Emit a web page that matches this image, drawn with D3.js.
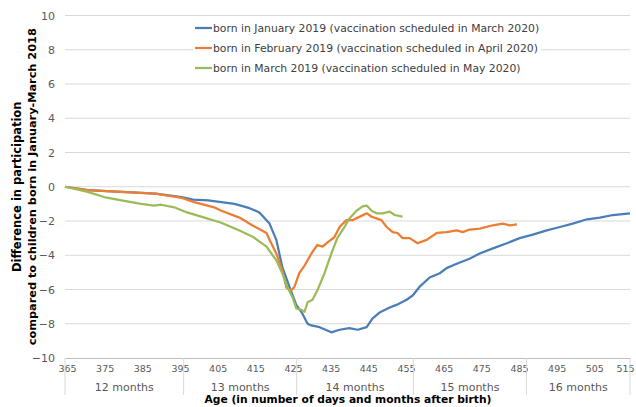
<!DOCTYPE html>
<html>
<head>
<meta charset="utf-8">
<script src="https://cdn.jsdelivr.net/npm/d3@7"></script>
<style>
  body { margin: 0; background: #fff; }
  svg { font-family: "DejaVu Sans", Verdana, sans-serif; }
</style>
</head>
<body>
<svg id="chart" width="636" height="407"></svg>
<script>
// age in days, difference in participation (percentage points)
const bornJan = [[365,0],[371,-0.2],[380,-0.3],[389,-0.4],[396,-0.6],[399,-0.75],[403,-0.8],[406.5,-0.9],[410,-1.0],[414,-1.25],[416.6,-1.5],[419.3,-2.15],[421.1,-3.1],[422.7,-4.7],[424.6,-5.85],[426.4,-6.9],[428,-7.4],[429.4,-8.0],[430.4,-8.1],[432.6,-8.2],[435.7,-8.5],[437.9,-8.35],[440.5,-8.25],[442.7,-8.35],[445.1,-8.2],[446.6,-7.7],[448.5,-7.35],[451.2,-7.05],[453,-6.9],[455.7,-6.6],[457.3,-6.35],[459.1,-5.85],[461.8,-5.3],[464.5,-5.05],[466.3,-4.75],[469,-4.5],[472.4,-4.2],[475.1,-3.9],[478.6,-3.6],[482.3,-3.3],[485.7,-3.0],[489.2,-2.8],[492.9,-2.55],[496.4,-2.35],[499.8,-2.15],[503.6,-1.9],[507,-1.8],[510.5,-1.65],[515,-1.55]];
const bornFeb = [[365,0],[371,-0.2],[380,-0.3],[389,-0.4],[396,-0.65],[399.3,-0.9],[404.6,-1.2],[406.5,-1.4],[411.3,-1.8],[414.7,-2.25],[418.5,-2.7],[419.3,-3.1],[421.1,-3.9],[422.7,-4.9],[423.8,-5.9],[425.1,-6.05],[425.9,-5.85],[427.2,-5.05],[428.6,-4.6],[430.7,-3.8],[432,-3.4],[433.4,-3.5],[434.7,-3.25],[436.5,-2.95],[437.9,-2.35],[439.7,-1.95],[441.3,-1.95],[443.7,-1.7],[445.1,-1.55],[446.4,-1.75],[447.7,-1.85],[449,-1.95],[450.4,-2.35],[452,-2.65],[453.3,-2.7],[454.6,-3.0],[456.5,-3.0],[458.6,-3.3],[461,-3.1],[463.7,-2.7],[466.3,-2.65],[469,-2.55],[470.6,-2.65],[472.4,-2.5],[475.1,-2.45],[478.6,-2.25],[481.2,-2.15],[483.1,-2.25],[485,-2.2]];
const bornMar = [[365,0],[371,-0.3],[375.4,-0.6],[380,-0.8],[385.2,-1.0],[388.7,-1.1],[390.5,-1.05],[394,-1.2],[397.4,-1.5],[402,-1.8],[406.5,-2.1],[411.3,-2.55],[414.7,-2.9],[418.5,-3.5],[421.1,-4.3],[422.7,-5.05],[424,-5.85],[425.4,-6.45],[426.4,-7.1],[427.8,-7.2],[428.6,-7.3],[429.4,-6.75],[430.7,-6.6],[432,-6.05],[433.9,-5.05],[435.7,-3.9],[437.3,-3.0],[439.2,-2.35],[440.5,-1.85],[442.4,-1.4],[444,-1.15],[445.1,-1.1],[446.4,-1.4],[447.7,-1.55],[449.3,-1.55],[451.2,-1.45],[452.5,-1.65],[454.6,-1.75]];

const seriesNames = [
  "born in January 2019 (vaccination scheduled in March 2020)",
  "born in February 2019 (vaccination scheduled in April 2020)",
  "born in March 2019 (vaccination scheduled in May 2020)"
];
const seriesColors = ["#4a7ebb", "#ed7d31", "#9bbb59"];

const dayTicks = [365,375,385,395,405,415,425,435,445,455,465,475,485,495,505,515];
const yTicks = [-10,-8,-6,-4,-2,0,2,4,6,8,10];
const monthBounds = [365, 396.5, 426.5, 457.5, 487.5, 515];
const monthLabels = ["12 months", "13 months", "14 months", "15 months", "16 months"];

const svg = d3.select('#chart');

const x = d3.scaleLinear().domain([365, 515]).range([65, 630]);
const y = d3.scaleLinear().domain([-10, 10]).range([358, 15.5]);

// gridlines
svg.append('g')
  .selectAll('line')
  .data(yTicks.filter(d => d > -10))
  .join('line')
  .attr('x1', x(365)).attr('x2', x(515))
  .attr('y1', d => y(d)).attr('y2', d => y(d))
  .attr('stroke', '#d9d9d9')
  .attr('stroke-width', 1);

// y axis labels
const yAxis = svg.append('g')
  .attr('transform', `translate(${x(365)},0)`)
  .call(d3.axisLeft(y).tickValues(yTicks).tickSize(0).tickPadding(10));
yAxis.select('.domain').remove();
yAxis.selectAll('text')
  .attr('font-size', 11)
  .attr('font-family', '"DejaVu Sans", Verdana, sans-serif')
  .attr('fill', '#595959');

// x axis line + day labels
const xAxis = svg.append('g')
  .attr('transform', `translate(0,${y(-10)})`)
  .call(d3.axisBottom(x).tickValues(dayTicks).tickSize(0).tickPadding(7));
xAxis.select('.domain').attr('stroke', '#bfbfbf');
xAxis.selectAll('text')
  .attr('font-size', 9.5)
  .attr('dx', d => d === 515 ? -5 : 2)
  .attr('font-family', '"DejaVu Sans", Verdana, sans-serif')
  .attr('fill', '#595959');

// month separators and labels
svg.append('g')
  .selectAll('line')
  .data(monthBounds)
  .join('line')
  .attr('x1', d => x(d)).attr('x2', d => x(d))
  .attr('y1', y(-10)).attr('y2', 395)
  .attr('stroke', '#d9d9d9');

svg.append('g')
  .selectAll('text')
  .data(monthLabels)
  .join('text')
  .attr('x', (d, i) => (x(monthBounds[i]) + x(monthBounds[i + 1])) / 2)
  .attr('y', 391)
  .attr('text-anchor', 'middle')
  .attr('font-size', 11)
  .attr('fill', '#595959')
  .text(d => d);

// axis titles
svg.append('text')
  .attr('x', 348)
  .attr('y', 403)
  .attr('text-anchor', 'middle')
  .attr('font-size', 10.7)
  .attr('font-weight', 'bold')
  .attr('fill', '#000')
  .text('Age (in number of days and months after birth)');

const yTitle = svg.append('g')
  .attr('transform', `translate(0,${y(0)}) rotate(-90)`);
yTitle.append('text')
  .attr('x', 0).attr('y', 21)
  .attr('text-anchor', 'middle')
  .attr('font-size', 11.5)
  .attr('font-weight', 'bold')
  .text('Difference in participation');
yTitle.append('text')
  .attr('x', 0).attr('y', 36)
  .attr('text-anchor', 'middle')
  .attr('font-size', 11.3)
  .attr('font-weight', 'bold')
  .text('compared to children born in January-March 2018');

// lines
const line = d3.line()
  .x(d => x(d[0]))
  .y(d => y(d[1]));

svg.append('g')
  .selectAll('path')
  .data([bornJan, bornFeb, bornMar])
  .join('path')
  .attr('d', line)
  .attr('fill', 'none')
  .attr('stroke', (d, i) => seriesColors[i])
  .attr('stroke-width', 2.25)
  .attr('stroke-linejoin', 'round');

// legend
const legend = svg.append('g');
const legendBg = legend.append('rect').attr('fill', '#fff');
const rows = legend.selectAll('g')
  .data(seriesNames)
  .join('g')
  .attr('transform', (d, i) => `translate(195,${28 + i * 20})`);
rows.append('line')
  .attr('x1', 0).attr('x2', 17)
  .attr('stroke', (d, i) => seriesColors[i])
  .attr('stroke-width', 2.25);
rows.append('text')
  .attr('x', 18)
  .attr('dy', '0.35em')
  .attr('font-size', 10.8)
  .attr('fill', '#404040')
  .text(d => d);
const bb = legend.node().getBBox();
legendBg.attr('x', bb.x - 2).attr('y', bb.y - 3)
  .attr('width', bb.width + 4).attr('height', bb.height + 6);
</script>
</body>
</html>
